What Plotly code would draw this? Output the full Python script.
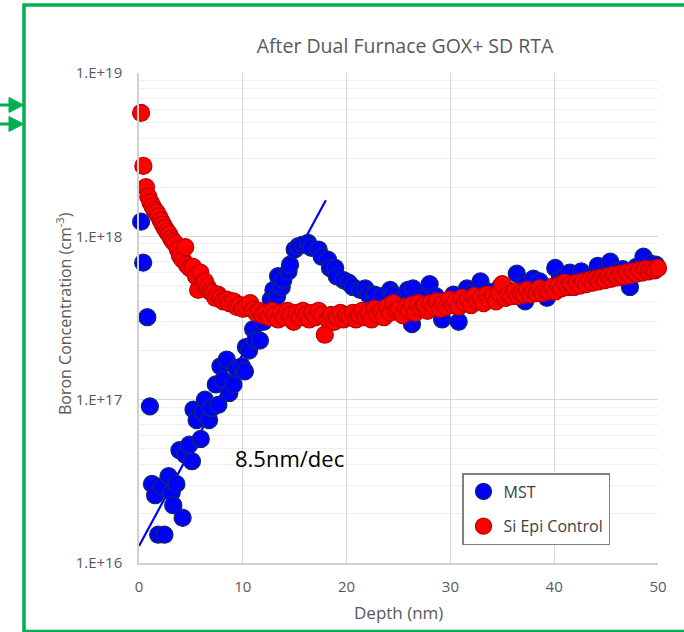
import plotly.graph_objects as go

# ---- MST (blue) SIMS profile ----
mst_depth = [0.2, 0.4, 0.8, 1.05, 1.25, 1.55, 1.85, 2.2, 2.45, 2.85, 3.15, 3.3, 3.6, 3.9,
             4.2, 4.45, 4.85, 5.1, 5.25, 5.55, 5.95, 6.15, 6.35, 6.75, 7.0, 7.4, 7.65, 7.85,
             8.1, 8.45, 8.7, 9.1, 9.4, 9.9, 10.2, 10.3, 10.6, 11.0, 11.2, 11.65, 12.0, 12.4,
             12.7, 12.95, 13.3, 13.4, 13.75, 13.9, 14.4, 14.55, 15.0, 15.35, 15.8, 16.3, 16.6,
             17.3, 17.6, 18.2, 18.4, 18.9, 19.05, 19.7, 20.2, 20.6, 21.3, 21.8, 22.1, 22.7,
             23.4, 24.2, 24.5, 25.2, 25.9, 26.3, 26.4, 26.8, 27.4, 28.0, 28.6, 29.2, 29.7,
             30.3, 30.8, 31.6, 32.2, 32.9, 33.6, 34.2, 34.8, 35.5, 36.4, 37.0, 37.2, 38.0,
             38.6, 39.3, 40.1, 40.5, 41.0, 41.5, 42.2, 42.6, 43.4, 44.2, 44.7, 45.4, 46.0,
             46.6, 47.3, 47.9, 48.6, 49.3, 49.8]
mst_conc = [1.23e18, 6.9e17, 3.2e17, 9.1e16, 3.05e16, 2.6e16, 1.49e16, 2.95e16, 1.49e16, 3.4e16,
            2.7e16, 2.26e16, 3.05e16, 4.9e16, 1.89e16, 4.6e16, 5.3e16, 4.2e16, 8.7e16, 7.5e16,
            5.75e16, 8.4e16, 1.0e17, 7.5e16, 8.9e16, 1.24e17, 9.3e16, 1.6e17, 1.32e17, 1.76e17,
            1.1e17, 1.24e17, 1.56e17, 1.6e17, 1.49e17, 2.1e17, 2.0e17, 2.7e17, 2.3e17, 2.3e17,
            3.0e17, 3.5e17, 4.1e17, 4.7e17, 4.3e17, 5.7e17, 4.9e17, 5.4e17, 6.1e17, 6.7e17,
            8.3e17, 8.7e17, 8.9e17, 9.1e17, 8.5e17, 8.3e17, 7.5e17, 7.2e17, 6.4e17, 6.4e17,
            5.7e17, 5.4e17, 5.2e17, 4.9e17, 4.7e17, 4.8e17, 4.4e17, 4.4e17, 4.3e17, 4.7e17,
            4.4e17, 4.1e17, 4.7e17, 2.9e17, 4.8e17, 4.0e17, 4.2e17, 5.1e17, 4.3e17, 3.1e17,
            3.9e17, 4.4e17, 3.0e17, 4.8e17, 4.5e17, 5.3e17, 4.6e17, 4.4e17, 4.9e17, 4.7e17,
            5.9e17, 5.0e17, 4.0e17, 5.5e17, 5.3e17, 4.2e17, 6.4e17, 5.4e17, 5.6e17, 6.0e17,
            5.3e17, 6.1e17, 5.6e17, 6.6e17, 5.9e17, 7.0e17, 6.1e17, 6.3e17, 4.9e17, 6.5e17,
            7.5e17, 6.8e17, 6.7e17]

# ---- Si Epi Control (red) SIMS profile ----
ctrl_depth = [0.2, 0.42, 0.67, 0.9, 1.1, 1.3, 1.5, 1.7, 1.9, 2.1, 2.3, 2.5, 2.7, 2.9, 3.1, 3.3,
              3.5, 3.75, 3.95, 4.2, 4.45, 4.6, 4.9, 5.2, 5.5, 5.7, 5.9, 6.1, 6.35, 6.6, 6.85,
              7.1, 7.35, 7.6, 7.85, 8.1, 8.45, 8.7, 9.1, 9.4, 9.7, 10.0, 10.3, 10.7, 11.0, 11.3,
              11.6, 11.9, 12.2, 12.5, 12.8, 13.1, 13.4, 13.7, 14.0, 14.3, 14.6, 14.9, 15.2,
              15.5, 15.8, 16.1, 16.4, 16.7, 17.0, 17.3, 17.6, 17.9, 18.2, 18.5, 18.8, 19.1,
              19.4, 19.7, 20.0, 20.3, 20.6, 20.9, 21.2, 21.5, 21.8, 22.1, 22.4, 22.7, 23.0,
              23.3, 23.6, 23.9, 24.2, 24.5, 24.8, 25.1, 25.4, 25.7, 26.0, 26.3, 26.6, 26.9,
              27.2, 27.5, 27.8, 28.1, 28.4, 28.7, 29.0, 29.3, 29.6, 29.9, 30.2, 30.5, 30.8,
              31.1, 31.4, 31.7, 32.0, 32.3, 32.6, 32.9, 33.2, 33.5, 33.8, 34.1, 34.4, 34.7,
              35.0, 35.3, 35.6, 35.9, 36.2, 36.5, 36.8, 37.1, 37.4, 37.7, 38.0, 38.3, 38.6,
              38.9, 39.2, 39.5, 39.8, 40.1, 40.4, 40.7, 41.0, 41.3, 41.6, 41.9, 42.2, 42.5,
              42.8, 43.1, 43.4, 43.7, 44.0, 44.3, 44.6, 44.9, 45.2, 45.5, 45.8, 46.1, 46.4,
              46.7, 47.0, 47.3, 47.6, 47.9, 48.2, 48.5, 48.8, 49.1, 49.4, 49.7, 50.0]
ctrl_conc = [5.7e18, 2.7e18, 2.0e18, 1.75e18, 1.62e18, 1.53e18, 1.45e18, 1.40e18, 1.33e18,
             1.25e18, 1.18e18, 1.12e18, 1.07e18, 1.03e18, 9.7e17, 9.3e17, 9.0e17, 8.3e17,
             7.6e17, 7.2e17, 8.6e17, 6.7e17, 6.4e17, 6.5e17, 5.7e17, 4.7e17, 6.0e17, 5.2e17,
             5.3e17, 4.9e17, 4.6e17, 4.5e17, 4.2e17, 4.4e17, 4.2e17, 4.0e17, 4.1e17, 3.9e17,
             4.0e17, 3.7e17, 3.8e17, 3.6e17, 3.7e17, 3.9e17, 3.55e17, 3.4e17, 3.5e17, 3.3e17,
             3.4e17, 3.2e17, 3.5e17, 3.3e17, 3.1e17, 3.4e17, 3.2e17, 3.5e17, 3.3e17, 3.0e17,
             3.4e17, 3.2e17, 3.5e17, 3.3e17, 3.1e17, 3.4e17, 3.2e17, 3.5e17, 3.3e17, 2.5e17,
             3.1e17, 3.3e17, 3.0e17, 3.2e17, 3.4e17, 3.1e17, 3.3e17, 3.2e17, 3.4e17, 3.1e17,
             3.3e17, 3.5e17, 3.2e17, 3.4e17, 3.1e17, 3.6e17, 3.3e17, 3.5e17, 3.2e17, 3.7e17,
             3.4e17, 3.9e17, 3.5e17, 3.6e17, 3.3e17, 3.7e17, 3.5e17, 3.8e17, 3.4e17, 3.9e17,
             3.6e17, 3.8e17, 3.5e17, 3.9e17, 3.7e17, 4.0e17, 3.6e17, 3.9e17, 3.7e17, 4.1e17,
             3.8e17, 4.0e17, 3.7e17, 4.2e17, 3.9e17, 4.1e17, 3.8e17, 4.3e17, 4.0e17, 4.2e17,
             3.9e17, 4.4e17, 4.1e17, 4.3e17, 4.0e17, 4.5e17, 5.1e17, 4.2e17, 4.4e17, 4.3e17,
             4.6e17, 4.3e17, 4.5e17, 4.4e17, 4.7e17, 4.4e17, 4.6e17, 4.5e17, 4.8e17, 4.5e17,
             4.7e17, 4.6e17, 4.9e17, 4.6e17, 5.0e17, 4.8e17, 5.2e17, 4.9e17, 5.1e17, 4.9e17,
             5.2e17, 5.0e17, 5.3e17, 5.1e17, 5.4e17, 5.2e17, 5.5e17, 5.3e17, 5.6e17, 5.4e17,
             5.7e17, 5.5e17, 5.8e17, 5.6e17, 5.9e17, 5.7e17, 6.0e17, 5.8e17, 6.1e17, 5.9e17,
             6.2e17, 6.0e17, 6.3e17, 6.1e17, 6.3e17, 6.2e17, 6.4e17]

# ---- exponential tail fit: 8.5 nm per decade ----
fit_depth = [0.0, 18.0]
fit_start = 1.27e16
decade_length_nm = 8.5
fit_conc = [fit_start * 10 ** (d / decade_length_nm) for d in fit_depth]

y_tickvals = [1e16, 1e17, 1e18, 1e19]
y_ticktext = ["1.E+16", "1.E+17", "1.E+18", "1.E+19"]
x_tickvals = [0, 10, 20, 30, 40, 50]

W, H = 684, 632
L, R, T, B = 139, 658, 73, 563


def px_x(p):
    return (p - L) / (R - L)


def px_y(p):
    return (B - p) / (B - T)


FONT = "Open Sans"
GREY = "#595959"
GREEN = "#00b050"

fig = go.Figure()

fig.add_trace(go.Scatter(
    x=fit_depth, y=fit_conc, mode="lines",
    line=dict(color="#0000ff", width=2.2), showlegend=False, hoverinfo="skip",
))
fig.add_trace(go.Scatter(
    x=mst_depth, y=mst_conc, mode="markers", name="MST", legendgroup="a",
    marker=dict(size=17, color="#0000ff", line=dict(color="#102a6b", width=1.3)),
    cliponaxis=False,
))
fig.add_trace(go.Scatter(
    x=ctrl_depth, y=ctrl_conc, mode="markers", name="Si Epi Control", legendgroup="b",
    marker=dict(size=17, color="#ff0000", line=dict(color="#c00000", width=1.3)),
    cliponaxis=False,
))

minor_vals = [m * 10 ** e for e in (16, 17, 18) for m in range(2, 10)]

shapes = []
# green frame: one open path (bottom -> left -> top), continuing off the right side
frame_path = (f"M {px_x(700)} {px_y(631.5)} L {px_x(24)} {px_y(631.5)} "
              f"L {px_x(24)} {px_y(5)} L {px_x(700)} {px_y(5)}")
shapes.append(dict(type="path", xref="paper", yref="paper", path=frame_path,
                   fillcolor="rgba(0,0,0,0)", line=dict(color=GREEN, width=3.5),
                   layer="above"))
# two green arrows entering the frame
for ay in (105, 124):
    shapes.append(dict(type="line", xref="paper", yref="paper",
                       x0=px_x(-2), x1=px_x(12), y0=px_y(ay), y1=px_y(ay),
                       line=dict(color=GREEN, width=3)))
    shapes.append(dict(type="path", xref="paper", yref="paper",
                       path=f"M {px_x(9)} {px_y(ay - 7.5)} L {px_x(23.5)} {px_y(ay)} "
                            f"L {px_x(9)} {px_y(ay + 7.5)} Z",
                       fillcolor=GREEN, line=dict(color=GREEN, width=1)))

annotations = [
    dict(text="8.5nm/dec", x=9.05, y=16.64, xref="x", yref="y", xanchor="left",
         yanchor="middle", showarrow=False, font=dict(family=FONT, size=22, color="#000000")),
    dict(text="Boron Concentration (cm<sup>-3</sup>)", x=px_x(64), y=px_y(314),
         xref="paper", yref="paper", xanchor="center", yanchor="middle", textangle=-90,
         showarrow=False, font=dict(family=FONT, size=16, color=GREY)),
    dict(text="Depth (nm)", x=px_x(398), y=px_y(612), xref="paper", yref="paper",
         xanchor="center", yanchor="middle",
         showarrow=False, font=dict(family=FONT, size=17, color=GREY)),
]

fig.update_layout(
    width=W, height=H,
    margin=dict(l=L, r=W - R, t=T, b=H - B, autoexpand=False),
    paper_bgcolor="white", plot_bgcolor="white",
    font=dict(family=FONT, color=GREY),
    title=dict(text="After Dual Furnace GOX+ SD RTA", x=405 / W, xanchor="center",
               y=1 - 46 / H, yanchor="middle",
               font=dict(family=FONT, size=19.5, color=GREY)),
    xaxis=dict(range=[0, 50], tickvals=x_tickvals, showgrid=True, gridcolor="#d9d9d9",
               gridwidth=1.3, zeroline=False, showline=True, linecolor="#d0d0d0",
               linewidth=1.5, ticks="", tickfont=dict(family=FONT, size=15, color=GREY),
               ticklabelstandoff=9),
    yaxis=dict(type="log", range=[16, 19], tickvals=y_tickvals, ticktext=y_ticktext,
               showgrid=True, gridcolor="#d9d9d9", gridwidth=1.3, zeroline=False,
               showline=True, linecolor="#d0d0d0", linewidth=1.5, ticks="",
               tickfont=dict(family=FONT, size=15, color=GREY), ticklabelstandoff=12,
               minor=dict(tickvals=minor_vals, showgrid=True, gridcolor="#eeeeee",
                          gridwidth=1.2, ticks="")),
    legend=dict(x=px_x(462), y=px_y(473), xanchor="left", yanchor="top",
                bgcolor="white", bordercolor="#808080", borderwidth=1.5,
                font=dict(family=FONT, size=16, color="#404040"),
                tracegroupgap=11, itemwidth=30),
    shapes=shapes,
    annotations=annotations,
)

fig.write_html("out.html")
